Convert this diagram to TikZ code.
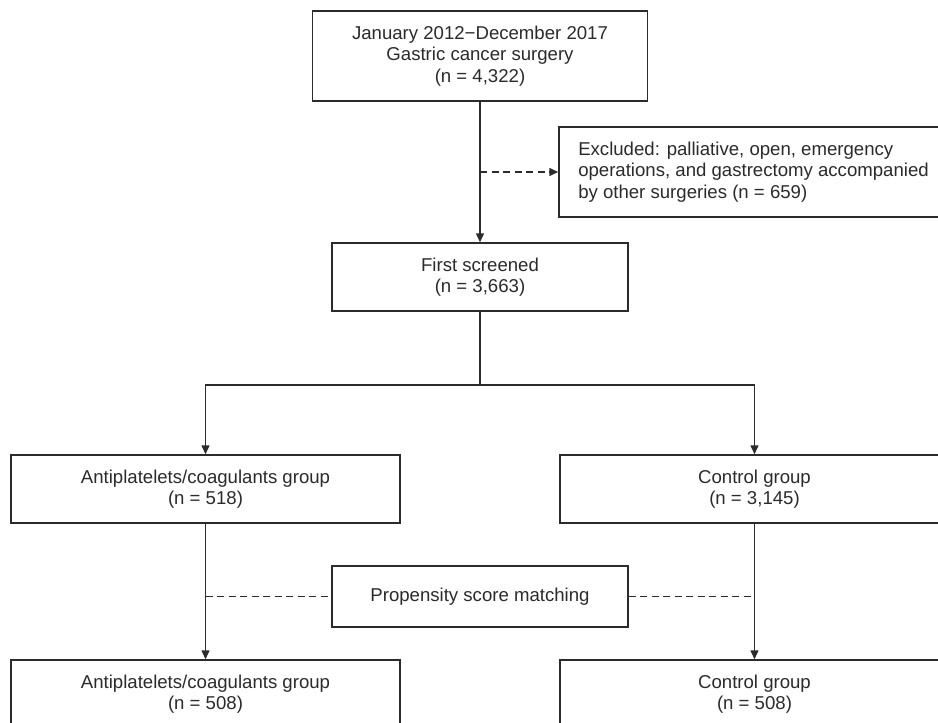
\documentclass[tikz,border=0pt]{standalone}
\usepackage{fontspec}
\setmainfont{Liberation Sans}
\usetikzlibrary{arrows.meta}
\definecolor{ink}{HTML}{2B2B2B}
\tikzset{
  box/.style={draw=ink, line width=1.5pt, rectangle, inner sep=0pt, align=center, text=ink,
    font=\fontsize{18.6}{21.5}\selectfont},
  link/.style={draw=ink, line width=1.5pt},
  arr/.style={link, -{Triangle[length=9pt,width=8pt]}},
  dashlink/.style={link, dash pattern=on 7pt off 4.5pt},
}
\begin{document}
\begin{tikzpicture}[x=1pt,y=-1pt]
\useasboundingbox (0,0) rectangle (938,723);
\clip (0,0) rectangle (938,723);
\fill[white] (0,0) rectangle (938,723);

\node[box, minimum width=335pt, minimum height=90pt] (top) at (480,56)
  {January 2012−December 2017\\Gastric cancer surgery\\(n = 4,322)};
\node[box, minimum width=389pt, minimum height=90pt, align=left] (excl) at (753.5,172)
  {Excluded: palliative, open, emergency\\operations, and gastrectomy accompanied\\by other surgeries (n = 659)};
\node[box, minimum width=296pt, minimum height=68pt] (first) at (480,277)
  {First screened\\(n = 3,663)};
\node[box, minimum width=389pt, minimum height=68pt] (left) at (205.5,489)
  {Antiplatelets/coagulants group\\(n = 518)};
\node[box, minimum width=389pt, minimum height=68pt] (right) at (754.5,489)
  {Control group\\(n = 3,145)};
\node[box, minimum width=296pt, minimum height=61pt] (psm) at (480,596.5)
  {Propensity score matching};
\node[box, minimum width=389pt, minimum height=68pt] (bleft) at (205.5,694)
  {Antiplatelets/coagulants group\\(n = 508)};
\node[box, minimum width=389pt, minimum height=68pt] (bright) at (754.5,694)
  {Control group\\(n = 508)};

\coordinate (j1) at (480,172);
\coordinate (split) at (480,385);
\coordinate (jl) at (205.5,596.5);
\coordinate (jr) at (754.5,596.5);

\draw[arr] (top.south) -- (first.north);
\draw[dashlink, -{Triangle[length=9pt,width=8pt]}] (j1) -- (excl.west);
\draw[link] (first.south) -- (split);
\draw[arr] (split) -| (left.north);
\draw[arr] (split) -| (right.north);
\draw[arr] (left.south) -- (bleft.north);
\draw[arr] (right.south) -- (bright.north);
\draw[dashlink] (jl) -- (psm.west);
\draw[dashlink] (psm.east) -- (jr);
\end{tikzpicture}
\end{document}
